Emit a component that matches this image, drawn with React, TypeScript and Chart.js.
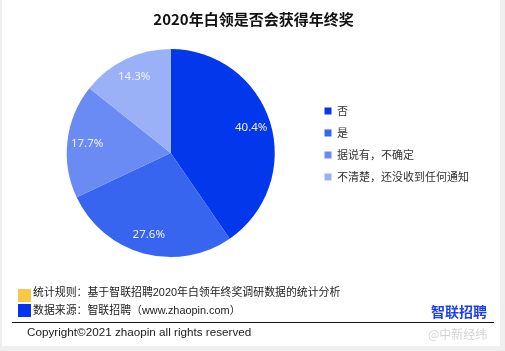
import React, { useEffect, useRef } from "react";
import { Chart, registerables } from "chart.js";

Chart.register(...registerables);

const categories = ["否", "是", "据说有，不确定", "不清楚，还没收到任何通知"];
const shares = [40.4, 27.6, 17.7, 14.3];
const sliceColors = ["#0237ec", "#3765f0", "#6a8bf3", "#9bb1f7"];
const titleText = "2020年白领是否会获得年终奖";
const noteRule = "统计规则：基于智联招聘2020年白领年终奖调研数据的统计分析";
const noteSource = "数据来源：智联招聘（www.zhaopin.com）";
const copyrightText = "Copyright©2021 zhaopin all rights reserved";
const logoText = "智联招聘";
const watermarkText = "@中新经纬";

const CJK = '"Noto Sans CJK SC", "Noto Sans", sans-serif';
const MIXED = '"Liberation Sans", "Noto Sans CJK SC", sans-serif';

const pctLabels = {
  id: "pctLabels",
  afterDatasetsDraw(chart: any) {
    const ctx = chart.ctx;
    const meta = chart.getDatasetMeta(0);
    const data = chart.data.datasets[0].data as number[];
    ctx.save();
    ctx.font = '11.5px "Noto Sans", sans-serif';
    ctx.fillStyle = "#eef2ff";
    ctx.textAlign = "center";
    ctx.textBaseline = "middle";
    meta.data.forEach((arc: any, i: number) => {
      const p = arc.getProps(["x", "y", "startAngle", "endAngle", "outerRadius"], true);
      const mid = (p.startAngle + p.endAngle) / 2;
      const r = p.outerRadius * 0.81;
      ctx.fillText(data[i].toFixed(1) + "%", p.x + Math.cos(mid) * r, p.y + Math.sin(mid) * r);
    });
    ctx.restore();
  },
};

export default function App() {
  const ref = useRef<HTMLCanvasElement>(null);
  useEffect(() => {
    if (!ref.current) return;
    const chart = new Chart(ref.current, {
      type: "pie",
      data: {
        labels: categories,
        datasets: [
          {
            data: shares,
            backgroundColor: sliceColors,
            borderWidth: 0,
          },
        ],
      },
      options: {
        responsive: false,
        animation: false,
        layout: { padding: { left: 28, right: 26, top: 0, bottom: 94 } },
        plugins: {
          tooltip: { enabled: false },
          title: {
            display: true,
            text: titleText,
            color: "#111",
            font: { size: 15, weight: "bold", family: CJK },
            padding: { top: 10, bottom: 21 },
          },
          legend: {
            display: true,
            position: "right",
            align: "start",
            fullSize: false,
            title: {
              display: true,
              text: " ",
              font: { size: 10, family: CJK },
              padding: { top: 0, bottom: 33.5 },
            },
            labels: {
              boxWidth: 7,
              boxHeight: 7,
              padding: 11,
              color: "#333",
              font: { size: 11, family: CJK },
            },
          },
        },
      },
      plugins: [pctLabels],
    });
    return () => chart.destroy();
  }, []);

  const abs = (s: React.CSSProperties): React.CSSProperties => ({ position: "absolute", ...s });

  return (
    <div style={abs({ left: 0, top: 0, width: 505, height: 351, background: "#efefef", overflow: "hidden" })}>
      <div style={abs({ left: 2, top: 0, width: 498, height: 346, background: "#fff" })} />
      <canvas ref={ref} width={505} height={351} style={abs({ left: 0, top: 0, width: 505, height: 351 })} />
      <div style={abs({ left: 18, top: 289, width: 13, height: 13, background: "#f7c948" })} />
      <div style={abs({ left: 18, top: 304, width: 13, height: 13, background: "#0433f2" })} />
      <div style={abs({ left: 33, top: 284, fontFamily: MIXED, fontSize: 10.9, lineHeight: "16px", color: "#222", whiteSpace: "nowrap" })}>
        {noteRule}
      </div>
      <div style={abs({ left: 33, top: 302, fontFamily: MIXED, fontSize: 10.9, lineHeight: "16px", color: "#222", whiteSpace: "nowrap" })}>
        {noteSource}
      </div>
      <div style={abs({ left: 431, top: 302, fontFamily: CJK, fontSize: 14, fontWeight: "bold", lineHeight: "18px", color: "#1d3ff0", whiteSpace: "nowrap" })}>
        {logoText}
      </div>
      <div style={abs({ left: 12, top: 322, width: 482, height: 1, background: "#111" })} />
      <div style={abs({ left: 27, top: 324, fontFamily: '"Liberation Sans", sans-serif', fontSize: 11.7, lineHeight: "16px", color: "#222", whiteSpace: "nowrap" })}>
        {copyrightText}
      </div>
      <div style={abs({ left: 428, top: 326, fontFamily: CJK, fontSize: 12, lineHeight: "16px", color: "#d4d4d4", whiteSpace: "nowrap" })}>
        {watermarkText}
      </div>
    </div>
  );
}
